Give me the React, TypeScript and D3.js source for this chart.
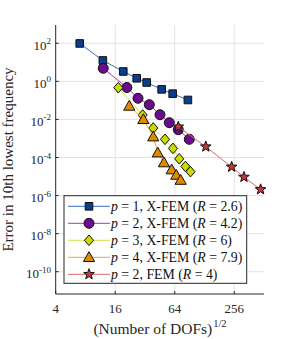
import React, { useEffect, useRef } from 'react';
import * as d3 from 'd3';

// sqrt(DOFs) and error values
const p1X = [7.0, 12.0, 19.3, 26.4, 33.3, 47.2, 61, 87];
const p1Y = [98, 12.5, 3.3, 1.45, 0.87, 0.38, 0.225, 0.105];

const p2X = [12.1, 21, 27.2, 35.4, 45.4, 56.4, 69.5, 89.8];
const p2Y = [4.85, 0.475, 0.129, 0.0594, 0.0177, 0.00673, 0.00288, 9.0e-4];

const p3X = [17.2, 30.3, 38.8, 51, 61.4, 71.1, 82.1, 92.3];
const p3Y = [0.464, 0.017, 0.00354, 9.0e-4, 3.0e-4, 8.5e-5, 3.4e-5, 1.8e-5];

const p4X = [22.2, 30.8, 38.8, 43.1, 49.8, 59.6, 66.3, 73.5];
const p4Y = [0.0507, 0.0101, 1.24e-3, 1.78e-4, 5.4e-5, 2.3e-5, 1.2e-5, 6.5e-6];

const femX = [69.5, 132, 241, 321, 473];
const femY = [4.1e-3, 3.7e-4, 3.2e-5, 9.4e-6, 2.1e-6];

const xTicks = [4, 16, 64, 256];
const yExps = [2, 0, -2, -4, -6, -8, -10];

const seriesNames = [
    { p: '1', method: 'X-FEM', R: '2.6' },
    { p: '2', method: 'X-FEM', R: '4.2' },
    { p: '3', method: 'X-FEM', R: '6' },
    { p: '4', method: 'X-FEM', R: '7.9' },
    { p: '2', method: 'FEM', R: '4' },
];

const series = [
    { xs: p1X, ys: p1Y, line: '#3d6cc0', fill: '#0c3c8e', marker: 'square' },
    { xs: p2X, ys: p2Y, line: '#9b3cb5', fill: '#6a0a8c', marker: 'circle' },
    { xs: p3X, ys: p3Y, line: '#d9e24a', fill: '#c9dc00', marker: 'diamond' },
    { xs: p4X, ys: p4Y, line: '#f0a637', fill: '#e08a00', marker: 'triangle' },
    { xs: femX, ys: femY, line: '#d66a6a', fill: '#c03a3c', marker: 'star' },
];

function markerPath(kind) {
    if (kind === 'square') {
        const s = 3.8;
        return `M${-s},${-s}H${s}V${s}H${-s}Z`;
    }
    if (kind === 'circle') {
        const r = 5;
        return `M${r},0A${r},${r} 0 1 1 ${-r},0A${r},${r} 0 1 1 ${r},0Z`;
    }
    if (kind === 'diamond') {
        return 'M0,-5.3L4.6,0L0,5.3L-4.6,0Z';
    }
    if (kind === 'triangle') {
        return 'M0,-5.6L5.6,4.2L-5.6,4.2Z';
    }
    // pentagram
    const pts = [];
    for (let i = 0; i < 10; i++) {
        const r = i % 2 === 0 ? 5.6 : 2.3;
        const a = -Math.PI / 2 + (i * Math.PI) / 5;
        pts.push([r * Math.cos(a), r * Math.sin(a)]);
    }
    return 'M' + pts.map(p => p.join(',')).join('L') + 'Z';
}

export default function App() {
    const chartRef = useRef(null);

    const width = 291;
    const height = 339;
    const left = 55.7, right = 264, top = 25, bottom = 294;
    const font = '"Liberation Serif", "Times New Roman", serif';

    const xScale = d3.scaleLog().base(2).domain([4, 512]).range([left, right]);
    const yScale = d3.scaleLog().domain([Math.pow(10, -11.17), Math.pow(10, 2.96)]).range([bottom, top]);

    useEffect(() => {
        const svg = d3.select(chartRef.current);
        svg.selectAll('*').remove();

        svg.append('rect').attr('width', width).attr('height', height).attr('fill', '#fff');

        // grid
        const grid = svg.append('g').attr('stroke', '#e3e3e3').attr('stroke-width', 1);
        xTicks.slice(1).forEach(t => {
            grid.append('line')
                .attr('x1', xScale(t)).attr('x2', xScale(t))
                .attr('y1', top).attr('y2', bottom);
        });
        yExps.forEach(e => {
            grid.append('line')
                .attr('x1', left).attr('x2', right)
                .attr('y1', yScale(Math.pow(10, e))).attr('y2', yScale(Math.pow(10, e)));
        });

        // axes
        const axes = svg.append('g').attr('stroke', '#262626').attr('stroke-width', 1);
        axes.append('line').attr('x1', left).attr('x2', left).attr('y1', top).attr('y2', bottom);
        axes.append('line').attr('x1', left).attr('x2', right).attr('y1', bottom).attr('y2', bottom);
        xTicks.forEach(t => {
            axes.append('line')
                .attr('x1', xScale(t)).attr('x2', xScale(t))
                .attr('y1', bottom).attr('y2', bottom - 3);
        });
        yExps.forEach(e => {
            axes.append('line')
                .attr('x1', left).attr('x2', left + 3)
                .attr('y1', yScale(Math.pow(10, e))).attr('y2', yScale(Math.pow(10, e)));
        });

        // tick labels
        xTicks.forEach(t => {
            svg.append('text')
                .attr('x', xScale(t)).attr('y', 313)
                .attr('text-anchor', 'middle')
                .attr('font-family', font).attr('font-size', 13)
                .attr('fill', '#262626')
                .text(t);
        });
        yExps.forEach(e => {
            const txt = svg.append('text')
                .attr('x', 51).attr('y', yScale(Math.pow(10, e)) + 6.5)
                .attr('text-anchor', 'end')
                .attr('font-family', font).attr('font-size', 13)
                .attr('fill', '#262626');
            txt.append('tspan').text('10');
            txt.append('tspan').attr('font-size', 9).attr('dy', -5.5).text(e);
        });

        // axis labels
        const xl = svg.append('text')
            .attr('x', 160).attr('y', 333.5)
            .attr('text-anchor', 'middle')
            .attr('font-family', font).attr('font-size', 15.5)
            .attr('fill', '#262626');
        xl.append('tspan').text('(Number of DOFs)');
        xl.append('tspan').attr('font-size', 10.5).attr('dx', 1).attr('dy', -7).text('1/2');

        svg.append('text')
            .attr('transform', `translate(13,${(top + bottom) / 2}) rotate(-90)`)
            .attr('text-anchor', 'middle')
            .attr('font-family', font).attr('font-size', 15)
            .attr('fill', '#262626')
            .text('Error in 10th lowest frequency');

        // series
        series.forEach(s => {
            const pts = s.xs.map((x, i) => [xScale(x), yScale(s.ys[i])]);
            const g = svg.append('g');
            g.append('path')
                .attr('d', d3.line()(pts))
                .attr('fill', 'none')
                .attr('stroke', s.line)
                .attr('stroke-width', 1);
            g.selectAll('path.mk')
                .data(pts)
                .enter()
                .append('path')
                .attr('class', 'mk')
                .attr('transform', d => `translate(${d[0]},${d[1]})`)
                .attr('d', markerPath(s.marker))
                .attr('fill', s.fill)
                .attr('stroke', '#111')
                .attr('stroke-width', 1);
        });

        // legend
        const lg = svg.append('g');
        lg.append('rect')
            .attr('x', 64).attr('y', 195.7)
            .attr('width', 182.7).attr('height', 87.6)
            .attr('fill', '#fff')
            .attr('stroke', '#262626')
            .attr('stroke-width', 1);
        series.forEach((s, i) => {
            const y = 206.3 + i * 17;
            lg.append('line')
                .attr('x1', 68).attr('x2', 110).attr('y1', y).attr('y2', y)
                .attr('stroke', s.line).attr('stroke-width', 1);
            lg.append('path')
                .attr('transform', `translate(89,${y})`)
                .attr('d', markerPath(s.marker))
                .attr('fill', s.fill)
                .attr('stroke', '#111')
                .attr('stroke-width', 1);
            const n = seriesNames[i];
            const t = lg.append('text')
                .attr('x', 111).attr('y', y + 4.7)
                .attr('font-family', font).attr('font-size', 13.8)
                .attr('fill', '#111');
            t.append('tspan').attr('font-style', 'italic').text('p');
            t.append('tspan').text(` = ${n.p}, ${n.method} (`);
            t.append('tspan').attr('font-style', 'italic').text('R');
            t.append('tspan').text(` = ${n.R})`);
        });
    });

    return (
        <svg ref={chartRef}
            width={width}
            height={height}
            viewBox={`0 0 ${width} ${height}`}
            style={{ position: 'absolute', left: 0, top: 0 }}>
        </svg>
    );
}
